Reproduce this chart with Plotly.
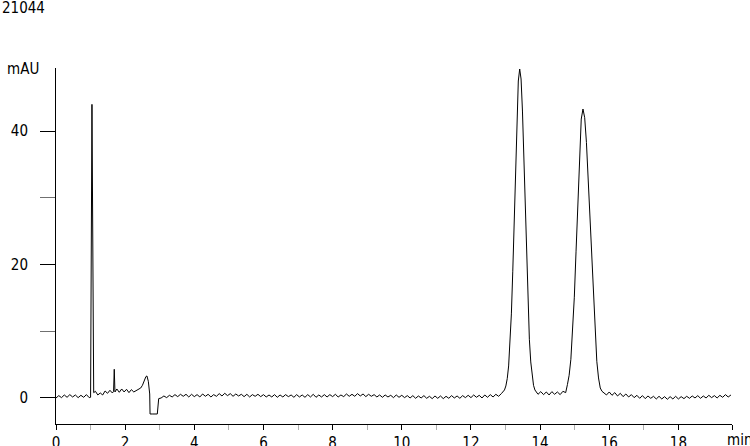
import numpy as np
import plotly.graph_objects as go

# ---------------- data ----------------
title_text = "21044"
y_unit = "mAU"
x_unit = "min"

x_tick_vals = [0, 2, 4, 6, 8, 10, 12, 14, 16, 18]
x_minor_vals = [1, 3, 5, 7, 9, 11, 13, 15, 17]
x_end = 19.55
y_range = [-3.9, 49.45]

# baseline 0.00 .. 0.96 (step 0.08)
seg0_start, seg0_step = 0.00, 0.08
seg0_vals = [0.0, 0.35, 0.05, 0.45, 0.1, 0.5, 0.15, 0.45, 0.05, 0.4, 0.1, 0.5, 0.05]

# solvent front spike, small spike, bump and negative dip
seg1_t = [1.00, 1.04, 1.09, 1.14, 1.21, 1.28, 1.35, 1.42, 1.49, 1.56,
          1.63, 1.665, 1.685, 1.705, 1.76, 1.83, 1.90, 1.97, 2.04, 2.11,
          2.18, 2.25, 2.32, 2.39, 2.45, 2.50, 2.55, 2.60, 2.63, 2.67,
          2.71, 2.72, 2.80, 2.88, 2.93, 2.97]
seg1_vals = [0.1, 44.0, 0.8, 1.0, 0.45, 0.75, 0.45, 1.05, 0.7, 1.15,
             0.75, 1.0, 4.3, 0.9, 1.35, 0.85, 1.35, 0.9, 1.3, 0.8,
             1.25, 0.9, 1.15, 1.3, 1.5, 1.9, 2.6, 3.2, 3.3, 2.5,
             0.6, -2.4, -2.4, -2.4, -2.4, -0.1]

# baseline 3.04 .. 12.88 (step 0.08)
seg2_start, seg2_step = 3.04, 0.08
seg2_vals = [
    0.0, 0.3, 0.05, 0.4, 0.15, 0.5, 0.2, 0.55, 0.25, 0.55,
    0.15, 0.55, 0.2, 0.5, 0.15, 0.6, 0.25, 0.55, 0.15, 0.5,
    0.25, 0.65, 0.3, 0.7, 0.35, 0.65, 0.25, 0.6, 0.3, 0.55,
    0.2, 0.55, 0.15, 0.5, 0.25, 0.55, 0.2, 0.5, 0.15, 0.45,
    0.15, 0.5, 0.1, 0.45, 0.15, 0.5, 0.2, 0.45, 0.1, 0.5,
    0.15, 0.45, 0.1, 0.5, 0.15, 0.55, 0.1, 0.45, 0.15, 0.5,
    0.15, 0.5, 0.2, 0.55, 0.15, 0.45, 0.2, 0.6, 0.25, 0.55,
    0.25, 0.65, 0.3, 0.6, 0.2, 0.55, 0.25, 0.5, 0.15, 0.45,
    0.1, 0.45, 0.15, 0.4, 0.05, 0.45, 0.1, 0.4, 0.05, 0.35,
    0.0, 0.35, -0.05, 0.3, 0.0, 0.35, -0.05, 0.25, -0.1, 0.3,
    -0.05, 0.3, -0.1, 0.25, -0.05, 0.35, 0.0, 0.3, -0.05, 0.35,
    0.05, 0.4, 0.05, 0.45, 0.1, 0.4, 0.0, 0.45, 0.1, 0.5,
    0.15, 0.55, 0.25, 0.65]

# peak 1 (apex ~13.41 min) 12.93 .. 13.89 (step 0.04)
peak1_start, peak1_step = 12.93, 0.04
peak1_vals = [0.9, 1.2, 1.8, 2.9, 4.8, 7.9, 12.6, 19.0, 26.8, 35.0,
              42.4, 47.5, 49.3, 47.8, 43.0, 36.0, 28.0, 20.3, 13.8, 8.8,
              5.4, 3.2, 1.9, 1.2, 0.9]

# baseline between peaks 13.94 .. 14.74 (step 0.08)
seg3_start, seg3_step = 13.94, 0.08
seg3_vals = [0.55, 0.95, 0.5, 0.9, 0.45, 0.95, 0.55, 0.9, 0.5, 1.0, 0.8]

# peak 2 (apex ~15.24 min) 14.79 .. 15.84 (step 0.05)
peak2_start, peak2_step = 14.79, 0.05
peak2_vals = [2.0, 3.4, 5.8, 9.7, 15.1, 22.0, 29.6, 36.5, 41.8, 43.3,
              42.0, 38.3, 32.9, 26.6, 20.2, 14.5, 9.6, 5.5, 3.0, 1.5,
              1.0, 0.8]

# baseline 15.92 .. 19.52 (step 0.08)
seg4_start, seg4_step = 15.92, 0.08
seg4_vals = [
    0.45, 0.9, 0.4, 0.8, 0.3, 0.7, 0.2, 0.6, 0.15, 0.5,
    0.05, 0.4, -0.05, 0.35, -0.1, 0.3, -0.05, 0.25, -0.15, 0.25,
    -0.15, 0.2, -0.2, 0.2, -0.15, 0.25, -0.15, 0.2, -0.1, 0.25,
    -0.05, 0.3, 0.0, 0.35, -0.05, 0.3, 0.0, 0.4, 0.05, 0.35,
    0.0, 0.4, 0.1, 0.5, 0.15, 0.45]


def grid(start, step, vals):
    return list(np.round(start + step * np.arange(len(vals)), 3))


time = (grid(seg0_start, seg0_step, seg0_vals) + seg1_t
        + grid(seg2_start, seg2_step, seg2_vals)
        + grid(peak1_start, peak1_step, peak1_vals)
        + grid(seg3_start, seg3_step, seg3_vals)
        + grid(peak2_start, peak2_step, peak2_vals)
        + grid(seg4_start, seg4_step, seg4_vals))
signal = (seg0_vals + seg1_vals + seg2_vals + peak1_vals
          + seg3_vals + peak2_vals + seg4_vals)

# ---------------- figure ----------------
FONT = "DejaVu Sans Condensed, DejaVu Sans, sans-serif"
PW = 676.0   # plot-area width in px
PH = 356.0   # plot-area height in px
L, T = 56.0, 68.0  # plot-area left/top in px

fig = go.Figure()
fig.add_trace(go.Scatter(x=time, y=signal, mode="lines",
                         line=dict(color="#000000", width=1),
                         hoverinfo="skip", showlegend=False))

fig.update_layout(
    width=750, height=446,
    margin=dict(l=56, r=18, t=68, b=22, pad=0),
    paper_bgcolor="white", plot_bgcolor="white",
    font=dict(family=FONT, size=15, color="#000000"),
    showlegend=False,
    xaxis=dict(
        range=[0, x_end], showgrid=False, zeroline=False,
        showline=True, linecolor="#000000", linewidth=1,
        tickmode="array", tickvals=x_tick_vals + [x_end],
        ticktext=[str(v) for v in x_tick_vals] + [""],
        ticks="outside", ticklen=5, tickwidth=1, tickcolor="#000000",
        minor=dict(tickmode="array", tickvals=x_minor_vals, ticks="outside",
                   ticklen=5, tickwidth=1, tickcolor="#b0b0b0"),
        tickfont=dict(family=FONT, size=15),
        automargin=False, fixedrange=True,
    ),
    yaxis=dict(
        range=y_range, showgrid=False, zeroline=False,
        showline=True, linecolor="#000000", linewidth=1,
        tickmode="linear", tick0=0, dtick=20,
        ticks="outside", ticklen=15, tickwidth=1, tickcolor="#000000",
        minor=dict(tickmode="linear", tick0=0, dtick=10, ticks="outside",
                   ticklen=15, tickwidth=1, tickcolor="#707070"),
        tickfont=dict(family=FONT, size=15),
        ticklabelstandoff=9,
        automargin=False, fixedrange=True,
    ),
    annotations=[
        dict(text=title_text, xref="paper", yref="paper",
             x=(0 - L) / PW, y=(T + PH - 8) / PH, xanchor="left", yanchor="middle",
             showarrow=False, font=dict(family=FONT, size=15)),
        dict(text=y_unit, xref="paper", yref="paper",
             x=(41 - L) / PW, y=(T + PH - 68.5) / PH, xanchor="right", yanchor="middle",
             showarrow=False, font=dict(family=FONT, size=15)),
        dict(text=x_unit, xref="paper", yref="paper",
             x=(725 - L) / PW, y=(T + PH - 440) / PH, xanchor="left", yanchor="middle",
             showarrow=False, font=dict(family=FONT, size=15)),
    ],
)

fig.write_html(
    "out.html",
    config={"displayModeBar": False},
    post_script="document.body.style.margin='0px';document.body.style.overflow='hidden';",
)
